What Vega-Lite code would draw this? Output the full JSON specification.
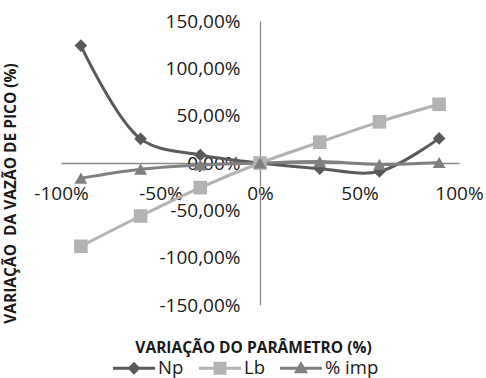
{
  "$schema": "https://vega.github.io/schema/vega-lite/v6.json",
  "autosize": {"type": "none"},
  "padding": {"left": 61, "top": 21, "right": 27, "bottom": 73},
  "width": 398,
  "height": 284,
  "background": "#ffffff",
  "config": {
    "view": {"stroke": null},
    "font": "Open Sans"
  },
  "data": {
    "values": [
      {"serie": "Np", "x": -90, "y": 124},
      {"serie": "Np", "x": -60, "y": 25.5},
      {"serie": "Np", "x": -30, "y": 8.5},
      {"serie": "Np", "x": 0, "y": 0},
      {"serie": "Np", "x": 30, "y": -6},
      {"serie": "Np", "x": 60, "y": -9},
      {"serie": "Np", "x": 90, "y": 26},
      {"serie": "Lb", "x": -90, "y": -88},
      {"serie": "Lb", "x": -60, "y": -56},
      {"serie": "Lb", "x": -30, "y": -26},
      {"serie": "Lb", "x": 0, "y": 0},
      {"serie": "Lb", "x": 30, "y": 22},
      {"serie": "Lb", "x": 60, "y": 43.5},
      {"serie": "Lb", "x": 90, "y": 62},
      {"serie": "% imp", "x": -90, "y": -16},
      {"serie": "% imp", "x": -60, "y": -6.5},
      {"serie": "% imp", "x": -30, "y": -2},
      {"serie": "% imp", "x": 0, "y": 0},
      {"serie": "% imp", "x": 30, "y": 1.5},
      {"serie": "% imp", "x": 60, "y": -1.5},
      {"serie": "% imp", "x": 90, "y": 0.5}
    ]
  },
  "encoding": {
    "x": {
      "field": "x",
      "type": "quantitative",
      "scale": {"domain": [-100, 100], "nice": false, "zero": false},
      "axis": {
        "orient": "bottom",
        "offset": -142,
        "values": [-100, -50, 0, 50, 100],
        "labelExpr": "toString(datum.value) + '%'",
        "grid": false,
        "ticks": false,
        "domainColor": "#8c8c8c",
        "domainWidth": 1.3,
        "labelFont": "Open Sans",
        "labelFontSize": 19,
        "labelColor": "#1a1a1a",
        "labelPadding": 21,
        "labelBaseline": "top",
        "labelOverlap": false,
        "labelFlush": false,
        "title": "VARIAÇÃO DO PARÂMETRO (%)",
        "titleFont": "Open Sans",
        "titleFontSize": 15.5,
        "titleFontWeight": "bold",
        "titleColor": "#1a1a1a",
        "titleX": 192,
        "titleY": 184,
        "titleAlign": "center",
        "titleBaseline": "middle"
      }
    },
    "y": {
      "field": "y",
      "type": "quantitative",
      "scale": {"domain": [-150, 150], "nice": false, "zero": false},
      "axis": {
        "orient": "left",
        "offset": -199,
        "values": [-150, -100, -50, 0, 50, 100, 150],
        "labelExpr": "(datum.value < 0 ? '-' : '') + replace(format(abs(datum.value), '.2f'), '.', ',') + '%'",
        "grid": false,
        "ticks": false,
        "domainColor": "#8c8c8c",
        "domainWidth": 1.3,
        "labelFont": "Open Sans",
        "labelFontSize": 19,
        "labelColor": "#1a1a1a",
        "labelPadding": 20,
        "labelBaseline": "middle",
        "labelOverlap": false,
        "labelFlush": false,
        "title": "VARIAÇÃO\u00a0 DA VAZÃO DE PICO (%)",
        "titleFont": "Open Sans",
        "titleFontSize": 15.5,
        "titleFontWeight": "bold",
        "titleColor": "#1a1a1a",
        "titleAngle": -90,
        "titleX": -250,
        "titleY": 172,
        "titleAlign": "center",
        "titleBaseline": "middle"
      }
    },
    "color": {
      "field": "serie",
      "type": "nominal",
      "scale": {
        "domain": ["Np", "Lb", "% imp"],
        "range": ["#5a5a5a", "#b3b3b3", "#808080"]
      },
      "legend": {
        "orient": "none",
        "direction": "horizontal",
        "legendX": 52,
        "legendY": 326,
        "title": null,
        "symbolSize": 1764,
        "symbolStrokeWidth": 0,
        "symbolOpacity": 1,
        "labelFont": "Open Sans",
        "labelFontSize": 18.5,
        "labelColor": "#1a1a1a",
        "labelOffset": 3,
        "columnPadding": 15
      }
    }
  },
  "layer": [
    {
      "mark": {"type": "line", "interpolate": "catmull-rom", "strokeWidth": 3}
    },
    {
      "transform": [{"filter": "datum.serie === 'Np'"}],
      "mark": {"type": "point", "filled": true, "opacity": 1, "shape": "diamond", "size": 160}
    },
    {
      "transform": [{"filter": "datum.serie === 'Lb'"}],
      "mark": {"type": "point", "filled": true, "opacity": 1, "shape": "square", "size": 185}
    },
    {
      "transform": [{"filter": "datum.serie === '% imp'"}],
      "mark": {"type": "point", "filled": true, "opacity": 1, "shape": "triangle-up", "size": 165}
    },
    {
      "transform": [{"filter": "false"}],
      "mark": {"type": "point", "filled": true, "opacity": 1},
      "encoding": {
        "shape": {
          "field": "serie",
          "type": "nominal",
          "scale": {
            "domain": ["Np", "Lb", "% imp"],
            "range": [
              "M-1,-0.07L1,-0.07L1,0.07L-1,0.07Z M0,-0.31L0.31,0L0,0.31L-0.31,0Z",
              "M-1,-0.07L1,-0.07L1,0.07L-1,0.07Z M-0.31,-0.31L0.31,-0.31L0.31,0.31L-0.31,0.31Z",
              "M-1,-0.07L1,-0.07L1,0.07L-1,0.07Z M0,-0.34L0.34,0.24L-0.34,0.24Z"
            ]
          },
          "legend": null
        }
      }
    }
  ]
}
